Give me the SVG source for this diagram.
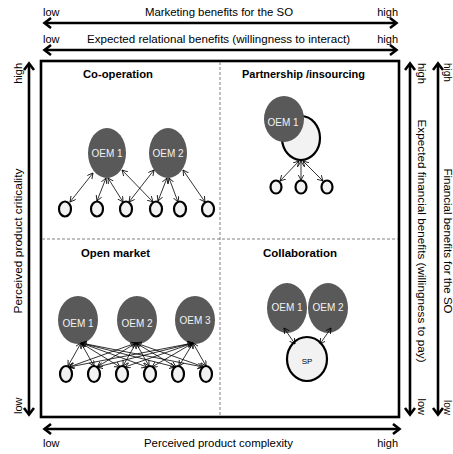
<svg xmlns="http://www.w3.org/2000/svg" width="453" height="454" viewBox="0 0 453 454">
<defs>
<style>
.t{font-family:"Liberation Sans",Arial,sans-serif;font-size:11px;fill:#000}
.t2{font-family:"Liberation Sans",Arial,sans-serif;font-size:10px;fill:#000}
.q{font-family:"Liberation Sans",Arial,sans-serif;font-size:11px;font-weight:bold;fill:#000}
.oem{fill:#595959;stroke:none}
.ot{font-family:"Liberation Sans",Arial,sans-serif;font-size:10px;fill:#f2f2f2;text-anchor:middle}
.c{fill:#f2f2f2;stroke:#000;stroke-width:2.2}
.ax{stroke:#000;stroke-width:2.6;fill:none;marker-start:url(#big);marker-end:url(#big)}
.cn{stroke:#000;stroke-width:0.8;fill:none;marker-start:url(#sm);marker-end:url(#sm)}
.dv{stroke:#808080;stroke-width:1;stroke-dasharray:3,2;fill:none}
</style>
<marker id="big" markerUnits="userSpaceOnUse" markerWidth="14" markerHeight="14" refX="7" refY="6" orient="auto-start-reverse" viewBox="0 0 14 14">
<path d="M1,1 L7.5,6 L1,11" fill="none" stroke="#000" stroke-width="2.6"/>
</marker>
<marker id="sm" markerUnits="userSpaceOnUse" markerWidth="8" markerHeight="8" refX="5.5" refY="3" orient="auto-start-reverse" viewBox="0 0 8 8">
<path d="M0,0 L5.5,3 L0,6" fill="none" stroke="#000" stroke-width="0.8"/>
</marker>
</defs>
<rect width="453" height="454" fill="#fff"/>

<g id="axes">
<line class="ax" x1="45" y1="23" x2="396" y2="23"/>
<line class="ax" x1="45" y1="50" x2="396" y2="50"/>
<line class="ax" x1="45" y1="429" x2="399" y2="429"/>
<line class="ax" x1="29" y1="64" x2="29" y2="414"/>
<line class="ax" x1="410" y1="64" x2="410" y2="414"/>
<line class="ax" x1="438" y1="64" x2="438" y2="414"/>
<text class="t" x="43" y="16">low</text>
<text class="t" x="145" y="16" textLength="148" lengthAdjust="spacingAndGlyphs">Marketing benefits for the SO</text>
<text class="t" x="398" y="16" text-anchor="end">high</text>
<text class="t" x="43" y="43">low</text>
<text class="t" x="87" y="43" textLength="263" lengthAdjust="spacingAndGlyphs">Expected relational benefits (willingness to interact)</text>
<text class="t" x="398" y="43" text-anchor="end">high</text>
<text class="t" x="43" y="447">low</text>
<text class="t" x="144" y="447" textLength="149" lengthAdjust="spacingAndGlyphs">Perceived product complexity</text>
<text class="t" x="398" y="447" text-anchor="end">high</text>
<text class="t" transform="translate(22,241) rotate(-90)" text-anchor="middle" textLength="145" lengthAdjust="spacingAndGlyphs">Perceived product criticality</text>
<text class="t" transform="translate(22,63) rotate(-90)" text-anchor="end">high</text>
<text class="t" transform="translate(22,414) rotate(-90)">low</text>
<text class="t" transform="translate(418,241) rotate(90)" text-anchor="middle" textLength="243" lengthAdjust="spacingAndGlyphs">Expected financial benefits (willingness to pay)</text>
<text class="t" transform="translate(418,63) rotate(90)">high</text>
<text class="t" transform="translate(418,415) rotate(90)" text-anchor="end">low</text>
<text class="t2" transform="translate(444,241) rotate(90)" text-anchor="middle" textLength="145" lengthAdjust="spacingAndGlyphs">Financial benefits for the SO</text>
<text class="t2" transform="translate(444,63) rotate(90)">high</text>
<text class="t2" transform="translate(444,415) rotate(90)" text-anchor="end">low</text>
</g>

<g id="frame">
<rect x="41" y="61" width="358" height="356" fill="none" stroke="#000" stroke-width="2.6"/>
<line class="dv" x1="220" y1="62" x2="220" y2="416"/>
<line class="dv" x1="42" y1="239" x2="398" y2="239"/>
</g>

<g id="cooperation">
<text class="q" x="83" y="78" textLength="70" lengthAdjust="spacingAndGlyphs">Co-operation</text>
<g id="coop-oem1"><ellipse class="oem" cx="107" cy="153" rx="19" ry="25"/><text class="ot" x="107" y="157">OEM 1</text></g>
<g id="coop-oem2"><ellipse class="oem" cx="168" cy="153" rx="19" ry="25"/><text class="ot" x="168" y="157">OEM 2</text></g>
<g id="coop-s1"><ellipse class="c" cx="65" cy="209" rx="6" ry="7.5"/></g>
<g id="coop-s2"><ellipse class="c" cx="97" cy="209" rx="6" ry="7.5"/></g>
<g id="coop-s3"><ellipse class="c" cx="126" cy="209" rx="6" ry="7.5"/></g>
<g id="coop-s4"><ellipse class="c" cx="156" cy="209" rx="6" ry="7.5"/></g>
<g id="coop-s5"><ellipse class="c" cx="180" cy="209" rx="6" ry="7.5"/></g>
<g id="coop-s6"><ellipse class="c" cx="208" cy="209" rx="6" ry="7.5"/></g>
</g>

<g id="partnership">
<text class="q" x="242" y="78" textLength="123" lengthAdjust="spacingAndGlyphs">Partnership /insourcing</text>
<g id="part-big"><ellipse class="c" cx="301" cy="138" rx="19" ry="22" stroke-width="2.6"/></g>
<g id="part-oem1"><ellipse class="oem" cx="284" cy="119" rx="20" ry="23"/><text class="ot" x="283" y="126">OEM 1</text></g>
<g id="part-s1"><ellipse class="c" cx="276" cy="187" rx="5.5" ry="6.5"/></g>
<g id="part-s2"><ellipse class="c" cx="301" cy="187" rx="5.5" ry="6.5"/></g>
<g id="part-s3"><ellipse class="c" cx="327" cy="187" rx="5.5" ry="6.5"/></g>
</g>

<g id="openmarket">
<text class="q" x="81" y="257" textLength="69" lengthAdjust="spacingAndGlyphs">Open market</text>
<g id="om-oem1"><ellipse class="oem" cx="78" cy="320" rx="20" ry="24"/><text class="ot" x="78" y="327">OEM 1</text></g>
<g id="om-oem2"><ellipse class="oem" cx="137" cy="320" rx="20" ry="24"/><text class="ot" x="137" y="327">OEM 2</text></g>
<g id="om-oem3"><ellipse class="oem" cx="195" cy="320" rx="20" ry="24"/><text class="ot" x="195" y="324">OEM 3</text></g>
<g id="om-s1"><ellipse class="c" cx="66" cy="374" rx="6" ry="8"/></g>
<g id="om-s2"><ellipse class="c" cx="94" cy="374" rx="6" ry="8"/></g>
<g id="om-s3"><ellipse class="c" cx="122" cy="374" rx="6" ry="8"/></g>
<g id="om-s4"><ellipse class="c" cx="150" cy="374" rx="6" ry="8"/></g>
<g id="om-s5"><ellipse class="c" cx="178" cy="374" rx="6" ry="8"/></g>
<g id="om-s6"><ellipse class="c" cx="206" cy="374" rx="6" ry="8"/></g>
</g>

<g id="collaboration">
<text class="q" x="263" y="257" textLength="74" lengthAdjust="spacingAndGlyphs">Collaboration</text>
<g id="col-oem1"><ellipse class="oem" cx="287" cy="308" rx="20" ry="25"/><text class="ot" x="287" y="311">OEM 1</text></g>
<g id="col-oem2"><ellipse class="oem" cx="328" cy="308" rx="20" ry="25"/><text class="ot" x="328" y="311">OEM 2</text></g>
<g id="col-sp"><ellipse class="c" cx="307" cy="359" rx="20" ry="22" stroke-width="2.6"/><text x="307" y="364" text-anchor="middle" font-family="Liberation Sans, Arial, sans-serif" font-size="8" fill="#000">SP</text></g>
</g>

<g id="connectors">
<line class="cn" x1="93" y1="173" x2="70" y2="202"/>
<line class="cn" x1="106" y1="178" x2="97" y2="201"/>
<line class="cn" x1="108" y1="178" x2="123" y2="202"/>
<line class="cn" x1="122" y1="170" x2="153" y2="202"/>
<line class="cn" x1="154" y1="170" x2="129" y2="202"/>
<line class="cn" x1="167" y1="178" x2="158" y2="201"/>
<line class="cn" x1="169" y1="178" x2="178" y2="202"/>
<line class="cn" x1="183" y1="170" x2="205" y2="202"/>

<line class="cn" x1="299" y1="161" x2="280" y2="181"/>
<line class="cn" x1="301" y1="161" x2="301" y2="180"/>
<line class="cn" x1="303" y1="161" x2="323" y2="181"/>

<line class="cn" x1="81" y1="343" x2="68" y2="366"/>
<line class="cn" x1="81" y1="343" x2="94" y2="366"/>
<line class="cn" x1="81" y1="343" x2="120" y2="367"/>
<line class="cn" x1="81" y1="343" x2="147" y2="367"/>
<line class="cn" x1="81" y1="343" x2="175" y2="367"/>
<line class="cn" x1="81" y1="343" x2="203" y2="367"/>
<line class="cn" x1="136" y1="343" x2="69" y2="367"/>
<line class="cn" x1="136" y1="343" x2="97" y2="367"/>
<line class="cn" x1="136" y1="343" x2="123" y2="366"/>
<line class="cn" x1="136" y1="343" x2="149" y2="366"/>
<line class="cn" x1="136" y1="343" x2="176" y2="367"/>
<line class="cn" x1="136" y1="343" x2="204" y2="367"/>
<line class="cn" x1="193" y1="343" x2="69" y2="367"/>
<line class="cn" x1="193" y1="343" x2="97" y2="367"/>
<line class="cn" x1="193" y1="343" x2="125" y2="367"/>
<line class="cn" x1="193" y1="343" x2="152" y2="367"/>
<line class="cn" x1="193" y1="343" x2="179" y2="366"/>
<line class="cn" x1="193" y1="343" x2="206" y2="366"/>

<line class="cn" x1="284" y1="328" x2="295" y2="344"/>
<line class="cn" x1="331" y1="328" x2="320" y2="344"/>
</g>
</svg>
